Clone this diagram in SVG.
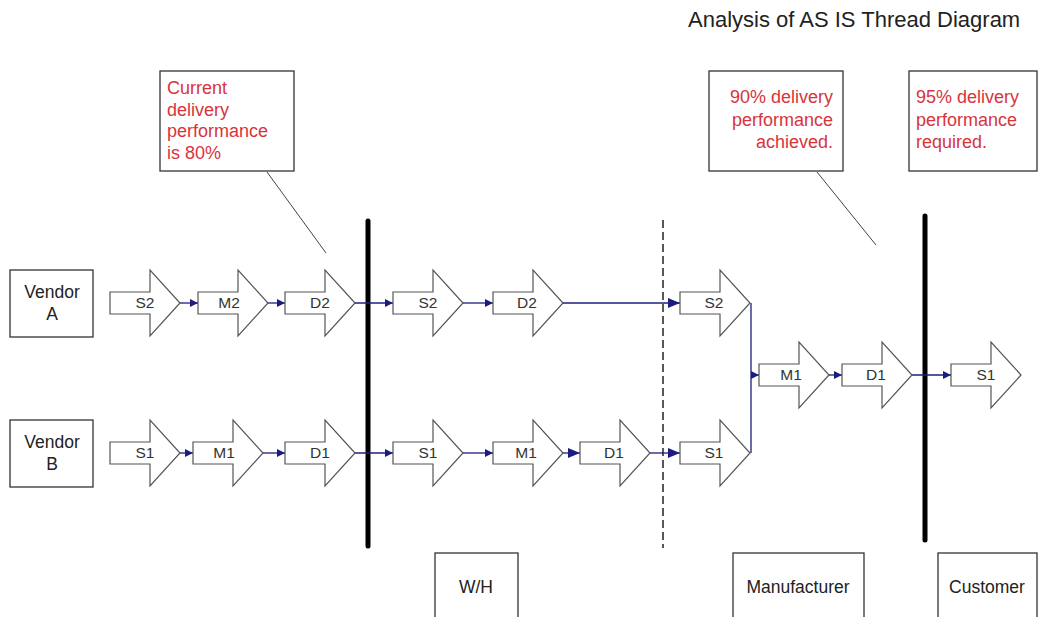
<svg xmlns="http://www.w3.org/2000/svg" xmlns:xlink="http://www.w3.org/1999/xlink" width="1039" height="617" viewBox="0 0 1039 617">
  <style>
    .box { fill: #ffffff; stroke: #333333; stroke-width: 1.3; }
    .chev { fill: #ffffff; stroke: #555555; stroke-width: 1.2; }
    .lbl { font-family: "Liberation Sans", Arial, sans-serif; font-size: 17.5px; fill: #222222; text-anchor: middle; }
    .step { font-family: "Liberation Sans", Arial, sans-serif; font-size: 15.5px; fill: #333333; text-anchor: middle; }
    .note { font-family: "Liberation Sans", Arial, sans-serif; font-size: 18px; fill: #d8343c; }
    .title { font-family: "Liberation Sans", Arial, sans-serif; font-size: 22px; fill: #222222; }
    .flow { fill: none; stroke: #1c1c80; stroke-width: 1.3; }
    .bar { stroke: #000000; stroke-width: 5; stroke-linecap: round; }
    .dash { stroke: #000000; stroke-width: 1.3; stroke-dasharray: 8 4; }
    .lead { stroke: #444444; stroke-width: 1; }
  </style>
  <defs>
    <!-- process chevron: 70 wide, centred on y=0 -->
    <path id="chevron" d="M0,-11 H40 V-33 L70,0 L40,33 V11 H0 Z"/>
    <marker id="ah" markerUnits="userSpaceOnUse" markerWidth="9" markerHeight="8" refX="8" refY="4" orient="auto">
      <path d="M0,0 L8,4 L0,8 Z" fill="#1c1c80"/>
    </marker>
    <marker id="ahBig" markerUnits="userSpaceOnUse" markerWidth="13" markerHeight="10" refX="12" refY="5" orient="auto">
      <path d="M0,0 L12,5 L0,10 Z" fill="#1c1c80"/>
    </marker>
  </defs>

  <rect width="1039" height="617" fill="#ffffff"/>

  <text class="title" x="688" y="27">Analysis of AS IS Thread Diagram</text>

  <!-- boundary lines -->
  <g id="boundaries">
    <line class="bar" x1="368" y1="221" x2="368" y2="546"/>
    <line class="bar" x1="925" y1="216" x2="925" y2="540"/>
    <line class="dash" x1="663" y1="220" x2="663" y2="548"/>
  </g>

  <!-- callout notes -->
  <g id="note-current">
    <rect class="box" x="160" y="71" width="134" height="100"/>
    <text class="note" x="167" y="94">Current</text>
    <text class="note" x="167" y="116">delivery</text>
    <text class="note" x="167" y="137">performance</text>
    <text class="note" x="167" y="159">is 80%</text>
    <line class="lead" x1="267" y1="172" x2="326" y2="253"/>
  </g>
  <g id="note-achieved">
    <rect class="box" x="709" y="71" width="134" height="100"/>
    <text class="note" x="833" y="103" text-anchor="end">90% delivery</text>
    <text class="note" x="833" y="126" text-anchor="end">performance</text>
    <text class="note" x="833" y="148" text-anchor="end">achieved.</text>
    <line class="lead" x1="817" y1="172" x2="876" y2="245"/>
  </g>
  <g id="note-required">
    <rect class="box" x="909" y="71" width="128" height="100"/>
    <text class="note" x="916" y="103">95% delivery</text>
    <text class="note" x="916" y="126">performance</text>
    <text class="note" x="916" y="148">required.</text>
  </g>

  <!-- parties -->
  <g id="vendor-a">
    <rect class="box" x="10" y="270" width="83" height="67"/>
    <text class="lbl" x="52" y="298">Vendor</text>
    <text class="lbl" x="52" y="320">A</text>
  </g>
  <g id="vendor-b">
    <rect class="box" x="10" y="420" width="83" height="67"/>
    <text class="lbl" x="52" y="448">Vendor</text>
    <text class="lbl" x="52" y="470">B</text>
  </g>
  <g id="wh">
    <rect class="box" x="435" y="553" width="83" height="70"/>
    <text class="lbl" x="476" y="593">W/H</text>
  </g>
  <g id="manufacturer">
    <rect class="box" x="733" y="553" width="131" height="70"/>
    <text class="lbl" x="798" y="593">Manufacturer</text>
  </g>
  <g id="customer">
    <rect class="box" x="938" y="553" width="99" height="70"/>
    <text class="lbl" x="987" y="593">Customer</text>
  </g>

  <!-- connectors -->
  <g id="connectors">
    <line class="flow" x1="180" y1="303" x2="198" y2="303" marker-end="url(#ah)"/>
    <line class="flow" x1="268" y1="303" x2="285" y2="303" marker-end="url(#ah)"/>
    <line class="flow" x1="355" y1="303" x2="393" y2="303" marker-end="url(#ah)"/>
    <line class="flow" x1="463" y1="303" x2="493" y2="303" marker-end="url(#ah)"/>
    <line class="flow" x1="562" y1="303" x2="680" y2="303" marker-end="url(#ahBig)"/>

    <line class="flow" x1="180" y1="453" x2="193" y2="453" marker-end="url(#ah)"/>
    <line class="flow" x1="263" y1="453" x2="285" y2="453" marker-end="url(#ah)"/>
    <line class="flow" x1="355" y1="453" x2="393" y2="453" marker-end="url(#ah)"/>
    <line class="flow" x1="463" y1="453" x2="493" y2="453" marker-end="url(#ah)"/>
    <line class="flow" x1="563" y1="453" x2="580" y2="453" marker-end="url(#ahBig)"/>
    <line class="flow" x1="650" y1="453" x2="680" y2="453" marker-end="url(#ahBig)"/>

    <line class="flow" x1="751" y1="303" x2="751" y2="453"/>
    <line class="flow" x1="751" y1="375" x2="759" y2="375" marker-end="url(#ah)"/>
    <line class="flow" x1="829" y1="375" x2="842" y2="375" marker-end="url(#ah)"/>
    <line class="flow" x1="912" y1="375" x2="951" y2="375" marker-end="url(#ah)"/>
  </g>

  <!-- vendor A thread -->
  <g id="a-s2"><use xlink:href="#chevron" class="chev" x="110" y="303"/><text class="step" x="145" y="308">S2</text></g>
  <g id="a-m2"><use xlink:href="#chevron" class="chev" x="198" y="303"/><text class="step" x="229" y="308">M2</text></g>
  <g id="a-d2"><use xlink:href="#chevron" class="chev" x="285" y="303"/><text class="step" x="320" y="308">D2</text></g>

  <!-- vendor B thread -->
  <g id="b-s1"><use xlink:href="#chevron" class="chev" x="110" y="453"/><text class="step" x="145" y="458">S1</text></g>
  <g id="b-m1"><use xlink:href="#chevron" class="chev" x="193" y="453"/><text class="step" x="224" y="458">M1</text></g>
  <g id="b-d1"><use xlink:href="#chevron" class="chev" x="285" y="453"/><text class="step" x="320" y="458">D1</text></g>

  <!-- warehouse threads -->
  <g id="wh-s2"><use xlink:href="#chevron" class="chev" x="393" y="303"/><text class="step" x="428" y="308">S2</text></g>
  <g id="wh-d2"><use xlink:href="#chevron" class="chev" x="493" y="303"/><text class="step" x="527" y="308">D2</text></g>
  <g id="wh-s1"><use xlink:href="#chevron" class="chev" x="393" y="453"/><text class="step" x="428" y="458">S1</text></g>
  <g id="wh-m1"><use xlink:href="#chevron" class="chev" x="493" y="453"/><text class="step" x="526" y="458">M1</text></g>
  <g id="wh-d1"><use xlink:href="#chevron" class="chev" x="580" y="453"/><text class="step" x="614" y="458">D1</text></g>

  <!-- manufacturer threads -->
  <g id="mf-s2"><use xlink:href="#chevron" class="chev" x="680" y="303"/><text class="step" x="714" y="308">S2</text></g>
  <g id="mf-s1"><use xlink:href="#chevron" class="chev" x="680" y="453"/><text class="step" x="714" y="458">S1</text></g>
  <g id="mf-m1"><use xlink:href="#chevron" class="chev" x="759" y="375"/><text class="step" x="791" y="380">M1</text></g>
  <g id="mf-d1"><use xlink:href="#chevron" class="chev" x="842" y="375"/><text class="step" x="876" y="380">D1</text></g>

  <!-- customer thread -->
  <g id="cu-s1"><use xlink:href="#chevron" class="chev" x="951" y="375"/><text class="step" x="986" y="380">S1</text></g>
</svg>
